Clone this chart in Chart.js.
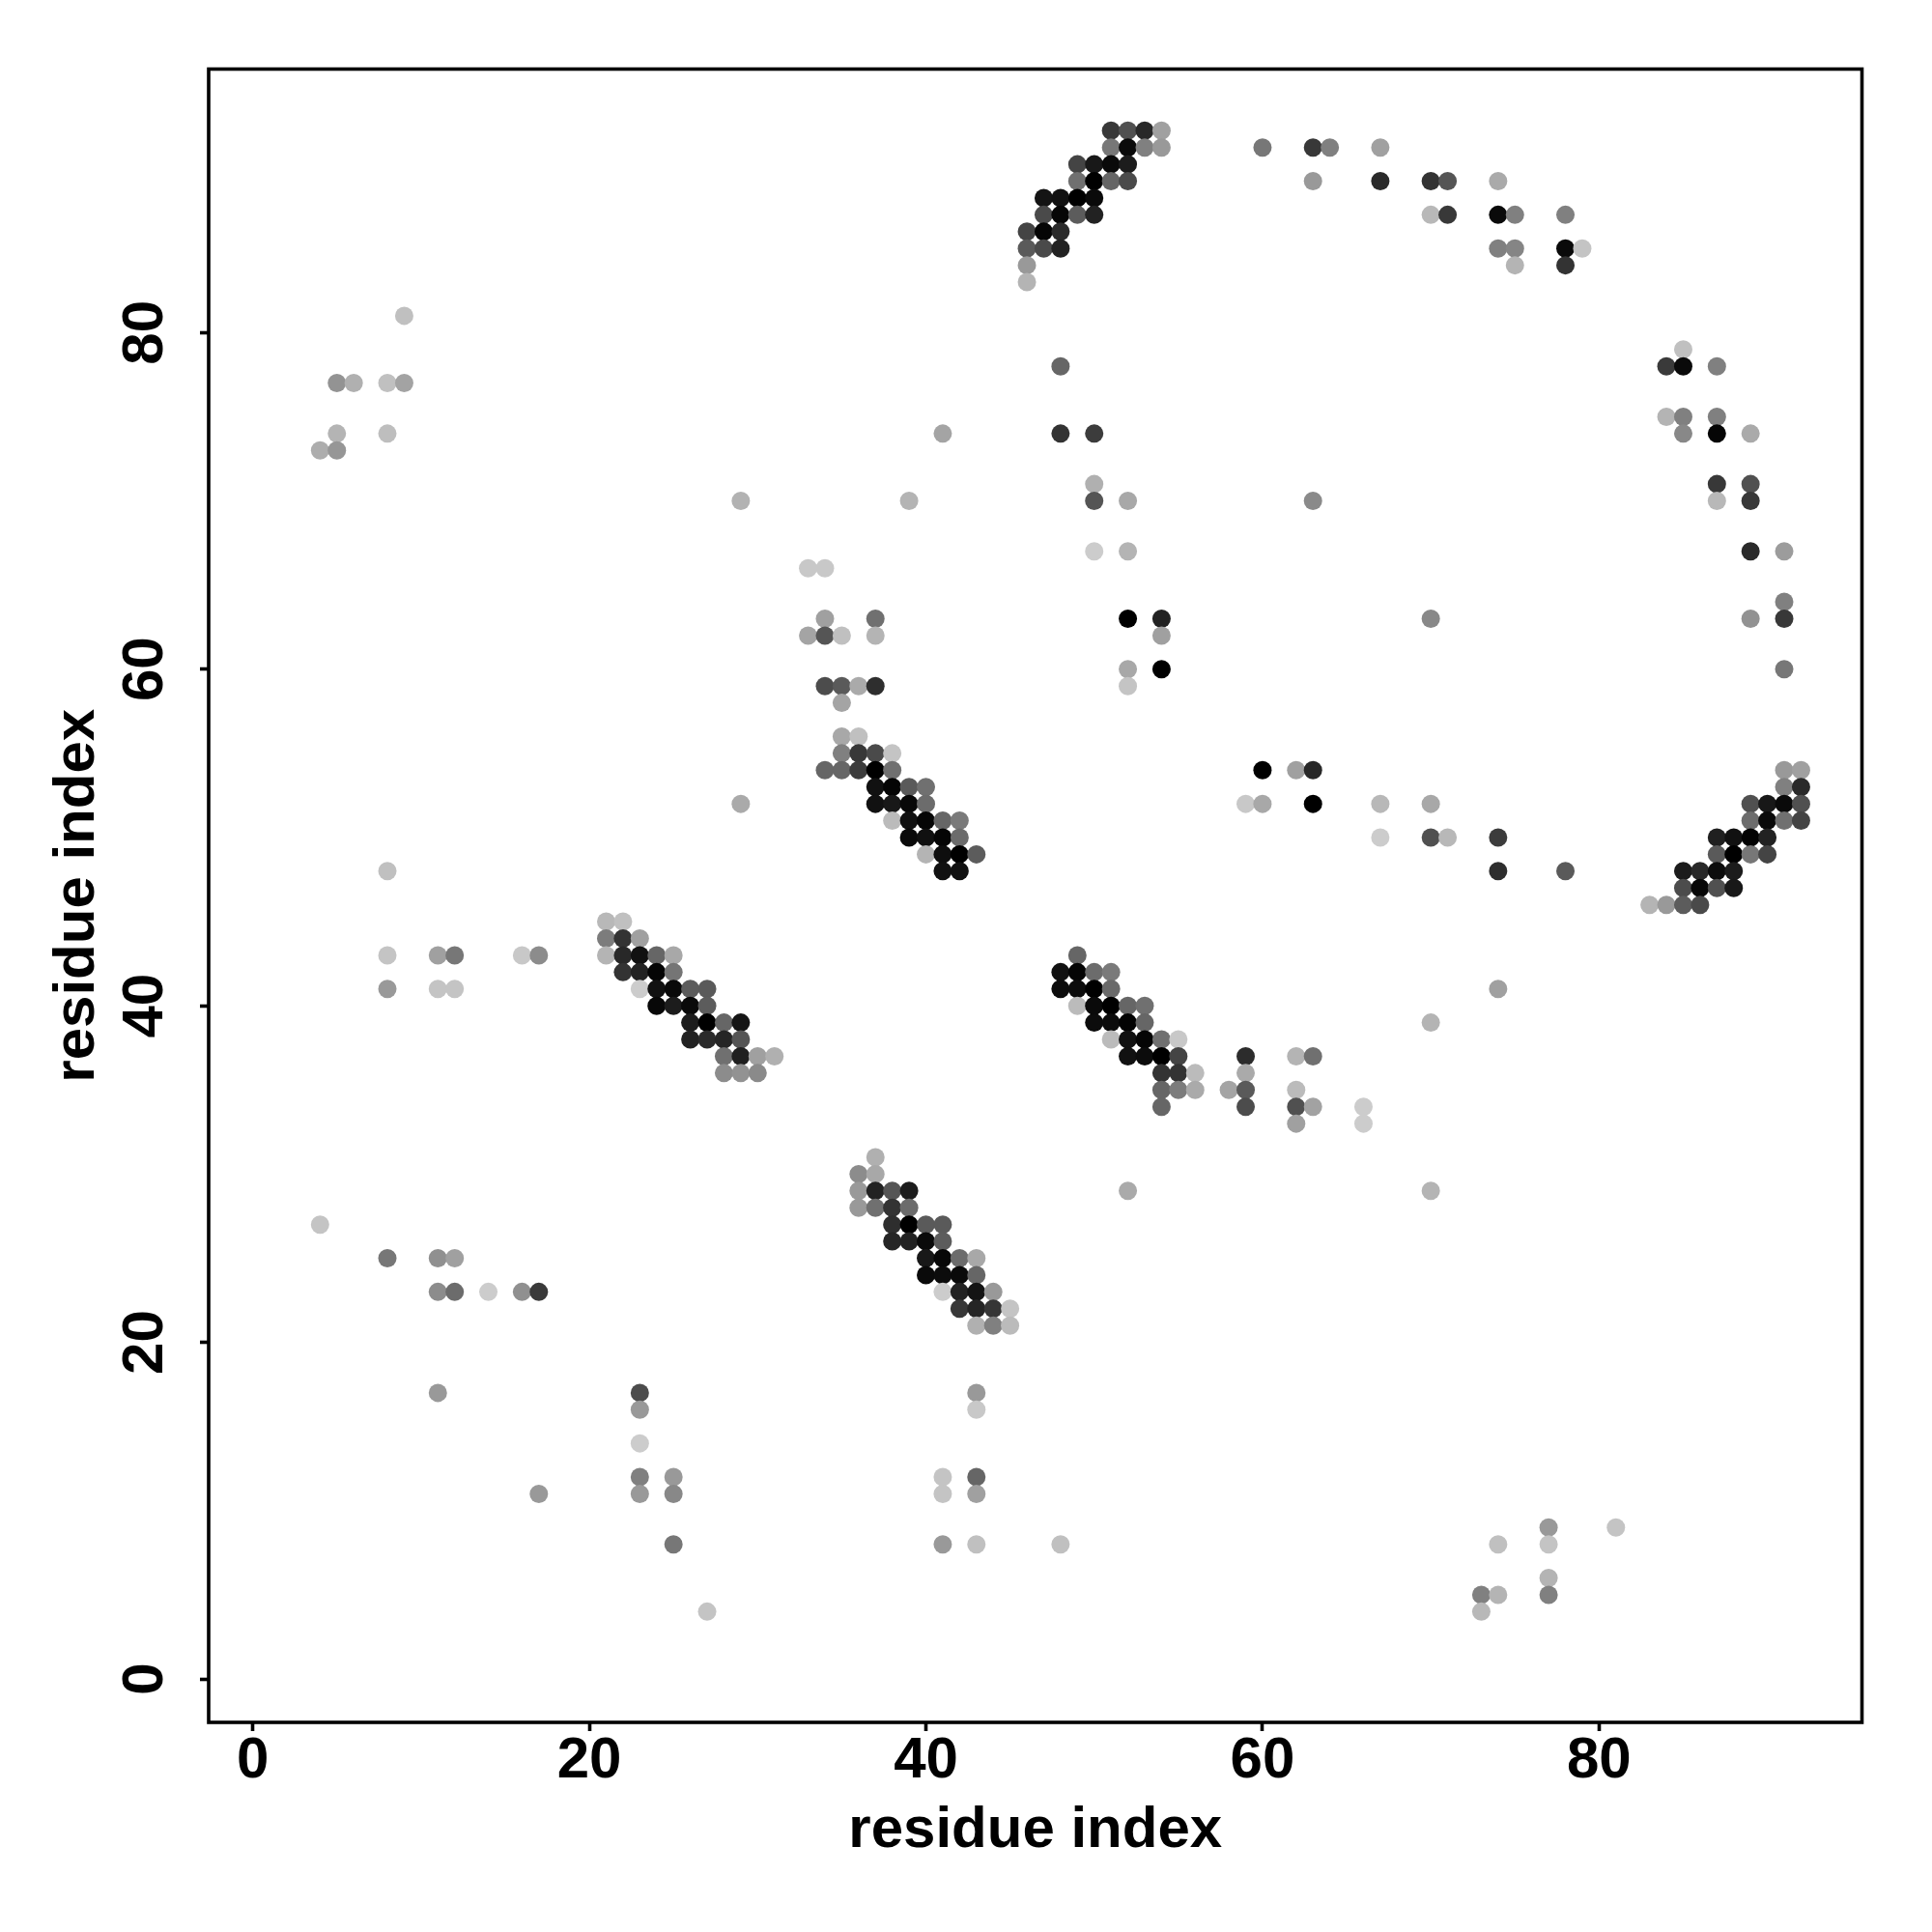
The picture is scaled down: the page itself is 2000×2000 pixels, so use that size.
<!DOCTYPE html>
<html>
<head>
<meta charset="utf-8">
<style>html,body{margin:0;padding:0;background:#fff}canvas{display:block}</style>
<script src="https://cdn.jsdelivr.net/npm/chart.js@4/dist/chart.umd.min.js"></script>
</head>
<body>
<canvas id="c" width="2000" height="2000"></canvas>
<script>
const xTitle = "residue index";
const yTitle = "residue index";
const tickValues = [0, 20, 40, 60, 80];
const rowY = [92,91,90,89,88,87,86,85,84,83,81,79,78,77,75,74,73,71,70,67,66,64,63,62,60,59,58,56,55,54,53,52,51,50,49,48,47,46,45,44,43,42,41,40,39,38,37,36,35,34,33,31,30,29,28,27,26,25,24,23,22,21,17,16,14,12,11,9,8,6,5,4];
const rowX = [
[51,52,53,54],[51,52,53,54,60,63,64,67],[49,50,51,52],[49,50,51,52,63,67,70,71,74],[47,48,49,50],
[47,48,49,50,70,71,74,75,78],[46,47,48],[46,47,48,74,75,78,79],[46,75,78],[46],
[9],[85],[48,84,85,87],[5,6,8,9],[84,85,87],[5,8,41,48,50,85,87,89],[4,5],[50,87,89],[29,39,50,52,63,87,89],
[50,52,89,91],[33,34],[91],[34,37,52,54,70,89,91],[33,34,35,37,54],[52,54,91],[34,35,36,37,52],[35],[35,36],[35,36,37,38],
[34,35,36,37,38,60,62,63,91,92],[37,38,39,40,91,92],[29,37,38,39,40,59,60,63,67,70,89,90,91,92],[38,39,40,41,42,89,90,91,92],
[39,40,41,42,67,70,71,74,87,88,89,90],[40,41,42,43,87,88,89,90],[8,41,42,74,78,85,86,87,88],[85,86,87,88],[83,84,85,86],
[21,22],[21,22,23],[8,11,12,16,17,21,22,23,24,25,49],[22,23,24,25,48,49,50,51],[8,11,12,23,24,25,26,27,48,49,50,51,74],
[24,25,26,27,49,50,51,52,53],[26,27,28,29,50,51,52,53,70],[26,27,28,29,51,52,53,54,55],[28,29,30,31,52,53,54,55,59,62,63],
[28,29,30,54,55,56,59],[54,55,56,58,59,62],[54,59,62,63,66],[62,66],[37],[36,37],[36,37,38,39,52,70],[36,37,38,39],[4,38,39,40,41],
[38,39,40,41],[8,11,12,40,41,42,43],[40,41,42,43],[11,12,14,16,17,41,42,43,44],[42,43,44,45],[43,44,45],[11,23,43],[23,43],[23],
[23,25,41,43],[17,23,25,41,43],[77,81],[25,41,43,48,74,77],[77],[73,74,77],[27,73]
];
const rowLevel = [
[0x38,0x50,0x28,0xa0],[0x77,0x0a,0x80,0x99,0x77,0x38,0x80,0xa0],[0x44,0x18,0x0a,0x1c],[0x70,0x00,0x66,0x4a,0x99,0x2a,0x33,0x55,0xaa],[0x14,0x11,0x00,0x0a],
[0x4a,0x06,0x5c,0x22,0xb8,0x38,0x0a,0x80,0x80],[0x44,0x05,0x2a],[0x5a,0x4a,0x22,0x80,0x85,0x0a,0xc4],[0x99,0xb4,0x33],[0xb4],
[0xc0],[0xc0],[0x66,0x3a,0x0a,0x80],[0x93,0xb0,0xc0,0xa3],[0xb4,0x80,0x80],[0xb4,0xbe,0xa4,0x33,0x3c,0x88,0x05,0xaa],[0xad,0x96],[0xb0,0x38,0x50],[0xb2,0xb4,0x55,0xa8,0x8a,0xb8,0x38],
[0xcc,0xb4,0x2a,0x9c],[0xc8,0xc8],[0x80],[0xa0,0x70,0x00,0x22,0x88,0x92,0x38],[0xa4,0x55,0xc0,0xb4,0xa0],[0xa8,0x00,0x77],[0x4c,0x5a,0xaa,0x2e,0xc4],[0xa4],[0xa8,0xc0],[0x80,0x38,0x4a,0xc4],
[0x66,0x66,0x3c,0x00,0x70,0x00,0xa0,0x28,0x99,0xa0],[0x11,0x05,0x5a,0x70,0x80,0x2a],[0xaa,0x11,0x18,0x08,0x6c,0xc8,0xa8,0x00,0xb8,0xa8,0x50,0x18,0x0a,0x50],[0xbb,0x11,0x06,0x66,0x7a,0x6c,0x0a,0x70,0x44],
[0x0a,0x10,0x05,0x6c,0xcc,0x50,0xb8,0x3c,0x20,0x11,0x02,0x22],[0xb4,0x0e,0x00,0x5c,0x5a,0x00,0x77,0x44],[0xc0,0x11,0x11,0x2e,0x5a,0x1c,0x28,0x0c,0x1c],[0x4c,0x08,0x50,0x18],[0xb4,0x99,0x5c,0x4a],
[0xb8,0xc0],[0x7c,0x33,0xa0],[0xc4,0xa0,0x77,0xc8,0x8c,0xb4,0x28,0x11,0x66,0xa8,0x66],[0x33,0x22,0x05,0x75,0x11,0x05,0x6c,0x7a],[0x99,0xc4,0xc4,0xcc,0x11,0x09,0x5c,0x5a,0x0c,0x0c,0x00,0x6a,0xa0],
[0x08,0x1c,0x0a,0x5c,0xbb,0x0a,0x00,0x66,0x70],[0x1c,0x00,0x66,0x15,0x0c,0x0c,0x03,0x66,0xb4],[0x22,0x2a,0x25,0x55,0xbb,0x11,0x05,0x70,0xc8],[0x70,0x20,0xa0,0xb0,0x11,0x0c,0x00,0x44,0x2c,0xb4,0x70],
[0x8c,0x92,0x8a,0x33,0x33,0xbb,0xaa],[0x66,0x7c,0xaa,0xa4,0x5a,0xbb],[0x66,0x4c,0x50,0xa2,0xcc],[0xa0,0xcc],[0xb0],[0x8c,0xa8],[0x99,0x22,0x55,0x1c,0xaa,0xb4],[0x99,0x70,0x33,0x6c],[0xc4,0x2e,0x00,0x5a,0x5a],
[0x25,0x22,0x0a,0x5c],[0x77,0x90,0xa0,0x18,0x08,0x6c,0xa8],[0x0a,0x0c,0x0a,0x66],[0x8c,0x6c,0xcc,0x90,0x3a,0xcc,0x22,0x14,0x99],[0x38,0x25,0x36,0xc4],[0xb0,0x80,0xbb],[0x99,0x4c,0x99],[0x99,0xc8],[0xcc],
[0x80,0x99,0xc4,0x66],[0x99,0x99,0x88,0xc4,0xa0],[0x99,0xc4],[0x77,0x99,0xc0,0xc0,0xc0,0xc4],[0xb4],[0x80,0xb4,0x80],[0xc4,0xb8]
];

const points = [], colors = [];
rowY.forEach((y, i) => rowX[i].forEach((x, j) => {
  const g = rowLevel[i][j];
  points.push({x, y});
  colors.push(`rgb(${g},${g},${g})`);
}));

const FONT = "'Liberation Sans', Arial, sans-serif";
const setTicks = s => { s.ticks = tickValues.map(v => ({value: v})); };
const frame = {
  id: 'frame',
  afterDraw(chart) {
    const {ctx, chartArea: a} = chart;
    ctx.save();
    ctx.strokeStyle = '#000';
    ctx.lineWidth = 3.6;
    ctx.strokeRect(a.left, a.top, a.right - a.left, a.bottom - a.top);
    ctx.restore();
  }
};
new Chart(document.getElementById('c'), {
  type: 'scatter',
  data: { datasets: [{ data: points, pointBackgroundColor: colors, pointBorderWidth: 0, pointRadius: 9.5, pointHoverRadius: 9.5 }] },
  plugins: [frame],
  options: {
    responsive: false, animation: false, events: [],
    layout: { padding: { left: 0, top: 71.5, right: 72.5, bottom: 0 } },
    plugins: { legend: {display: false}, tooltip: {enabled: false} },
    scales: {
      x: {
        type: 'linear', min: -2.62, max: 95.62,
        afterBuildTicks: setTicks,
        afterFit: s => { s.height = 217; },
        border: {display: false},
        grid: {drawOnChartArea: false, drawTicks: true, tickLength: 9, tickWidth: 3.6, tickColor: '#000'},
        ticks: {autoSkip: false, color: '#000', font: {family: FONT, size: 60, weight: 'bold'}, padding: -5, maxRotation: 0, minRotation: 0},
        title: {display: true, text: xTitle, color: '#000', font: {family: FONT, size: 60, weight: 'bold'}, padding: {top: 0, bottom: 69}}
      },
      y: {
        type: 'linear', min: -2.58, max: 95.66,
        afterBuildTicks: setTicks,
        afterFit: s => { s.width = 216; },
        border: {display: false},
        grid: {drawOnChartArea: false, drawTicks: true, tickLength: 9, tickWidth: 3.6, tickColor: '#000'},
        ticks: {autoSkip: false, color: '#000', font: {family: FONT, size: 60, weight: 'bold'}, padding: 22, minRotation: 90, maxRotation: 90, crossAlign: 'center'},
        title: {display: true, text: yTitle, color: '#000', font: {family: FONT, size: 60, weight: 'bold'}, padding: {top: 44, bottom: 0}}
      }
    }
  }
});
</script>
</body>
</html>
